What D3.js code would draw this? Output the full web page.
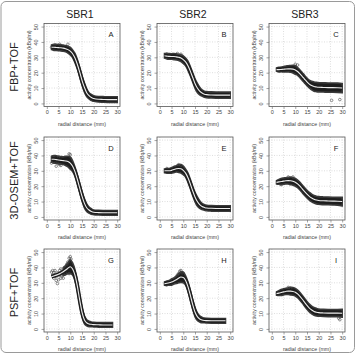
<!DOCTYPE html>
<html>
<head>
<meta charset="utf-8">
<script src="https://cdn.jsdelivr.net/npm/d3@7/dist/d3.min.js"></script>
<style>
  body { margin: 0; background: #fff; }
  svg { display: block; font-family: "Liberation Sans", Arial, sans-serif; }
</style>
</head>
<body>
<div id="chart"></div>
<script>
// column / row headings
var sbrNames = ["SBR1", "SBR2", "SBR3"];
var methodNames = ["FBP+TOF", "3D-OSEM+TOF", "PSF+TOF"];
var panelLetters = ["A", "B", "C", "D", "E", "F", "G", "H", "I"];
var xTicks = [0, 5, 10, 15, 20, 25, 30];
var yTicks = [0, 10, 20, 30, 40, 50];

// radial distance (mm) where the fitted curve / scatter band was read
var xGrid = [2, 3, 4, 5, 6, 7, 8, 9, 10, 11, 12, 13, 14, 15, 16, 17, 18, 19, 20, 22, 24, 26, 28, 30];

// fitted profile (kBq/ml) per panel
var fitA = [36.5, 36.5, 36.4, 36.3, 36.2, 36, 35.6, 35, 34, 32.3, 29.5, 25.5, 20.5, 15, 10.5, 7, 5, 3.8, 3.2, 2.7, 2.6, 2.5, 2.5, 2.5];
var fitB = [31, 30.8, 30.6, 30.5, 30.5, 30.3, 30, 29.5, 28.5, 27, 24.5, 21, 17, 13, 10, 8, 6.8, 6, 5.7, 5.5, 5.4, 5.4, 5.4, 5.4];
var fitC = [22, 22, 22.1, 22.2, 22.4, 22.5, 22.5, 22.3, 21.8, 20.8, 19.3, 17.5, 15.7, 14, 12.6, 11.6, 11, 10.7, 10.5, 10.4, 10.3, 10.3, 10.2, 10];
var fitD = [37.5, 37.5, 37.3, 37, 36.8, 36.6, 36.4, 36, 35, 33, 29.5, 24.5, 19, 13.5, 9, 6, 4.5, 3.5, 3, 2.8, 2.7, 2.7, 2.7, 2.7];
var fitE = [30, 30, 30, 30.3, 30.8, 31.3, 31.5, 31.3, 30.3, 28.5, 25.5, 21.5, 17, 13, 10, 8, 6.8, 6.2, 5.8, 5.6, 5.5, 5.5, 5.5, 5.5];
var fitF = [22.5, 22.8, 23, 23.3, 23.5, 23.6, 23.5, 23.2, 22.6, 21.5, 20, 18.2, 16.4, 14.8, 13.4, 12.3, 11.5, 11, 10.7, 10.5, 10.4, 10.3, 10.2, 10];
var fitG = [34, 34.5, 35, 35.5, 36.3, 37.2, 38.3, 39.5, 40.5, 39, 35, 28, 19, 11, 6, 4, 3.2, 3, 2.8, 2.7, 2.6, 2.6, 2.6, null];
var fitH = [29.5, 29.7, 30, 30.5, 31.2, 32, 33, 33.8, 33.5, 31.5, 27.5, 22, 16, 11, 8, 6.5, 5.8, 5.5, 5.4, 5.3, 5.3, 5.3, 5.3, null];
var fitI = [23, 23.3, 23.7, 24.1, 24.4, 24.6, 24.6, 24.4, 23.9, 22.8, 21.2, 19.3, 17.3, 15.3, 13.6, 12.3, 11.4, 10.9, 10.6, 10.4, 10.3, 10.3, 10.3, 10.2];

// half height of the dense scatter band around the fit
var spreadA = [1.5, 2, 2, 2, 2, 2, 2, 2.2, 2.5, 2.5, 3, 3, 3, 3, 3, 2.5, 2, 2, 1.8, 1.8, 1.8, 1.8, 1.8, 1.8];
var spreadB = [1.5, 1.8, 1.8, 1.8, 2, 2, 2, 2.2, 2.5, 2.5, 3, 3, 3, 3, 3, 2.5, 2, 2, 2, 2, 2, 2, 2, 2];
var spreadC = [1, 1.5, 1.5, 1.8, 2, 2, 2.2, 2.5, 2.8, 2.5, 2.5, 2.5, 2.5, 2.5, 2.5, 2.8, 3, 3, 3, 3, 3, 3, 3, 3];
var spreadD = [2, 2.5, 2.5, 2.5, 2.5, 2.5, 3, 3.5, 4, 3.5, 3, 3, 3, 3, 3, 2.5, 2, 1.8, 1.5, 1.5, 1.5, 1.5, 1.5, 1.5];
var spreadE = [1.2, 1.5, 1.5, 1.8, 2, 2, 2.5, 2.8, 2.8, 2.5, 3, 3, 3, 3, 3, 2.5, 2, 1.8, 1.8, 1.8, 1.8, 1.8, 1.8, 1.8];
var spreadF = [1, 1.5, 2, 2, 2, 2.2, 2.5, 2.5, 2.5, 2.5, 2.5, 2.5, 2.5, 2.5, 2.5, 2.5, 2.5, 2.5, 2.5, 2.5, 2.5, 2.5, 2.5, 2.8];
var spreadG = [null, null, null, null, null, 2.5, 3, 3.5, 4.5, 4, 3.5, 3, 3, 3, 2.5, 2, 1.8, 1.5, 1.5, 1.5, 1.5, 1.5, 1.5, null];
var spreadH = [1, 1.5, 1.5, 2, 2, 2.5, 3, 3.5, 3.5, 3, 3, 3, 3, 3, 2.5, 2, 1.8, 1.5, 1.5, 1.5, 1.5, 1.5, 1.5, null];
var spreadI = [1, 1.5, 2, 2, 2, 2.2, 2.5, 2.5, 2.5, 2.5, 2.5, 2.5, 2.5, 2.5, 2.5, 2.5, 2.5, 2.5, 2.3, 2.3, 2.3, 2.3, 2.3, 2.5];

// loose points that stand out of the band [mm, kBq/ml]
var outA = [[2.5, 37.5], [3, 36], [3.5, 38], [2, 36.5], [5.5, 38.5], [9, 38.5]];
var outB = [[2.5, 30], [3, 32], [3.5, 31.5], [4, 30.5], [7.5, 32.5], [9, 32]];
var outC = [[25.5, 2], [29, 2.5], [10, 25.5], [11, 25], [2.5, 22.5], [3.5, 22]];
var outD = [[2, 35], [2.5, 39], [3, 38.5], [3.5, 37.5], [4, 33], [4.5, 36], [5, 39], [5.5, 34], [6, 33.5], [9.5, 41], [10, 40.5], [3, 36]];
var outE = [[3, 31.5], [3.5, 30], [4, 29.5], [8, 34], [9, 33.5], [2.5, 30]];
var outF = [[2.5, 22], [3, 23.5], [7, 26], [9, 26], [4, 21]];
var outG = [[2, 37], [2.5, 35], [3, 33], [3, 36.5], [3.5, 38], [4, 34], [4.5, 29.5], [4.5, 36.5], [5, 32], [5.5, 38], [5.5, 35], [6, 33], [6.5, 37], [6, 39], [7, 35.5], [7.5, 40], [8, 38], [8.5, 42], [9, 43.5], [9.5, 46], [10, 47], [10.3, 45.5], [9.5, 36], [4, 31.5], [7, 33], [2.5, 38], [5, 36], [3.5, 35], [6.5, 34.5], [8, 36]];
var outH = [[2.5, 29.5], [3, 29], [3.5, 30.5], [4, 29], [5, 31], [5.5, 32], [6, 30], [7, 33], [7.5, 35], [8, 36], [8.5, 37.5], [9, 38], [9.5, 36.5], [6.5, 33], [4.5, 31]];
var outI = [[2.5, 23], [3, 23.5], [4, 22.5], [7, 27], [8, 26.5], [29, 6], [28.5, 7]];

var fits = [fitA, fitB, fitC, fitD, fitE, fitF, fitG, fitH, fitI];
var spreads = [spreadA, spreadB, spreadC, spreadD, spreadE, spreadF, spreadG, spreadH, spreadI];
var outs = [outA, outB, outC, outD, outE, outF, outG, outH, outI];

var W = 356, H = 354;
var colLeft = [44, 157, 269];
var rowTop = [23.5, 137, 249];
var boxW = 76, boxH = 83;

var svg = d3.select("#chart").append("svg")
  .attr("width", W).attr("height", H);

// outer frame
svg.append("rect")
  .attr("x", 1).attr("y", 1.5).attr("width", W - 2.5).attr("height", H - 3)
  .attr("rx", 5)
  .style("fill", "none").style("stroke", "#9a9a9a").style("stroke-width", 1);

// column titles
sbrNames.forEach(function (name, c) {
  svg.append("text")
    .attr("x", colLeft[c] + boxW / 2 - 2).attr("y", 17.5)
    .attr("text-anchor", "middle")
    .style("font-size", "10.5px").style("fill", "#222")
    .text(name);
});

// row titles
methodNames.forEach(function (name, r) {
  svg.append("text")
    .attr("transform", "translate(18," + (rowTop[r] + boxH / 2 + 2) + ") rotate(-90)")
    .attr("text-anchor", "middle")
    .style("font-size", "11px").style("fill", "#222")
    .text(name);
});

function drawPanel(i) {
  var r = Math.floor(i / 3), c = i % 3;
  var g = svg.append("g")
    .attr("transform", "translate(" + colLeft[c] + "," + rowTop[r] + ")");

  var x = d3.scaleLinear().domain([-1.2, 31.2]).range([0, boxW]);
  var y = d3.scaleLinear().domain([-2, 52]).range([boxH, 0]);

  // dotted grid
  g.selectAll(".gx").data(xTicks).enter().append("line")
    .attr("x1", function (d) { return x(d); }).attr("x2", function (d) { return x(d); })
    .attr("y1", 0).attr("y2", boxH)
    .style("stroke", "#c8c8c8").style("stroke-width", 0.6).style("stroke-dasharray", "1,1.5");
  g.selectAll(".gy").data(yTicks).enter().append("line")
    .attr("y1", function (d) { return y(d); }).attr("y2", function (d) { return y(d); })
    .attr("x1", 0).attr("x2", boxW)
    .style("stroke", "#c8c8c8").style("stroke-width", 0.6).style("stroke-dasharray", "1,1.5");

  var rows = xGrid.map(function (d, k) {
    return { x: d, fit: fits[i][k], s: spreads[i][k] };
  });

  // dense scatter band
  var band = d3.area()
    .defined(function (d) { return d.fit != null && d.s != null; })
    .x(function (d) { return x(d.x); })
    .y0(function (d) { return y(d.fit - d.s); })
    .y1(function (d) { return y(d.fit + d.s); })
    .curve(d3.curveMonotoneX);
  g.append("path").datum(rows).attr("d", band)
    .style("fill", "#1e1e1e").style("stroke", "#3a3a3a").style("stroke-width", 1.6);

  // loose points
  g.selectAll(".pt").data(outs[i]).enter().append("circle")
    .attr("cx", function (d) { return x(d[0]); })
    .attr("cy", function (d) { return y(d[1]); })
    .attr("r", 1.3)
    .style("fill", "none").style("stroke", "#444").style("stroke-width", 0.6);

  var line = d3.line()
    .defined(function (d) { return d.fit != null; })
    .x(function (d) { return x(d.x); })
    .y(function (d) { return y(d.fit); })
    .curve(d3.curveMonotoneX);
  g.append("path").datum(rows).attr("d", line)
    .style("fill", "none").style("stroke", "#1e1e1e").style("stroke-width", 4);
  g.append("path").datum(rows).attr("d", line)
    .style("fill", "none").style("stroke", "#eeeeee").style("stroke-width", 1.1);

  // frame
  g.append("rect").attr("width", boxW).attr("height", boxH)
    .style("fill", "none").style("stroke", "#555").style("stroke-width", 0.8);

  // axes
  var ax = g.append("g").attr("transform", "translate(0," + boxH + ")")
    .call(d3.axisBottom(x).tickValues(xTicks).tickSize(2.5).tickPadding(1.5));
  ax.select(".domain").remove();
  ax.selectAll("line").style("stroke", "#666").style("stroke-width", 0.6);
  ax.selectAll("text").style("font-size", "5.5px").style("fill", "#444");

  var ay = g.append("g")
    .call(d3.axisLeft(y).tickValues(yTicks).tickSize(2.5));
  ay.select(".domain").remove();
  ay.selectAll("line").style("stroke", "#666").style("stroke-width", 0.6);
  ay.selectAll("text")
    .attr("transform", "rotate(-90)")
    .attr("x", 0).attr("y", -6.5).attr("dy", 0)
    .attr("text-anchor", "middle")
    .style("font-size", "5.5px").style("fill", "#444");

  g.append("text")
    .attr("x", boxW / 2).attr("y", boxH + 19)
    .attr("text-anchor", "middle")
    .style("font-size", "5.3px").style("fill", "#444")
    .text("radial distance (mm)");
  g.append("text")
    .attr("transform", "translate(-13," + (boxH / 2) + ") rotate(-90)")
    .attr("text-anchor", "middle")
    .style("font-size", "5.2px").style("fill", "#444")
    .text("activity concentration (kBq/ml)");

  g.append("text")
    .attr("x", boxW - 9).attr("y", 13.5)
    .attr("text-anchor", "middle")
    .style("font-size", "7.5px").style("fill", "#222")
    .text(panelLetters[i]);
}

for (var i = 0; i < 9; i++) drawPanel(i);
</script>
</body>
</html>
